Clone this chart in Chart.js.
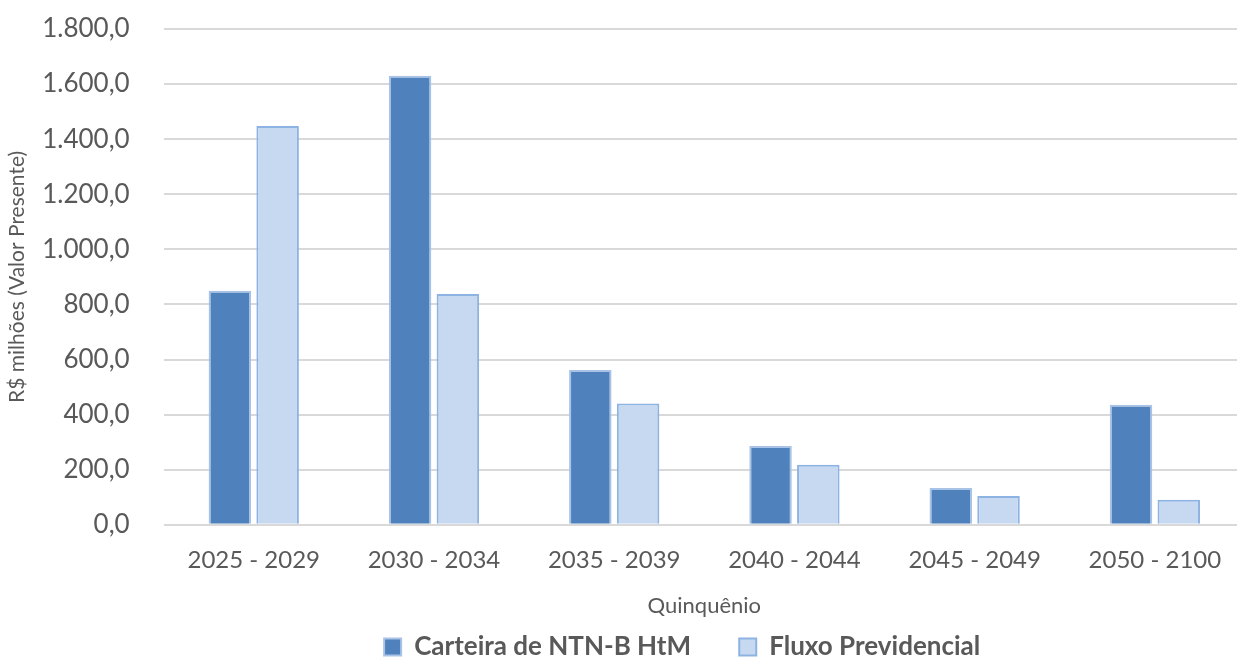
<!DOCTYPE html>
<html>
<head>
<meta charset="utf-8">
<script src="https://cdn.jsdelivr.net/npm/chart.js@4"></script>
<style>
  html, body { margin: 0; padding: 0; background: #fff; overflow: hidden; }
  #wrap { width: 1245px; height: 659px; }
</style>
</head>
<body>
<div id="wrap"><canvas id="grafico"></canvas></div>
<script>
// Dados
const quinquenios = ["2025 - 2029", "2030 - 2034", "2035 - 2039", "2040 - 2044", "2045 - 2049", "2050 - 2100"];
const carteira = [850, 1630, 562, 286, 134, 436];
const fluxo = [1448, 838, 440, 218, 105, 91];

// formato pt-BR com uma casa decimal
function fmt(v) {
  const partes = v.toFixed(1).split(".");
  partes[0] = partes[0].replace(/\B(?=(\d{3})+(?!\d))/g, ".");
  return partes.join(",");
}

const ctx = document.getElementById("grafico").getContext("2d");

new Chart(ctx, {
  type: "bar",
  data: {
    labels: quinquenios,
    datasets: [{
      label: "Carteira de NTN-B HtM",
      data: carteira,
      backgroundColor: "#4f81bd",
      borderColor: "#a9c3e6",
      borderWidth: 2
    }, {
      label: "Fluxo Previdencial",
      data: fluxo,
      backgroundColor: "#c6d9f1",
      borderColor: "#8db3e2",
      borderWidth: 2
    }]
  },
  options: {
    responsive: true,
    maintainAspectRatio: false,
    animation: false,
    layout: { padding: { top: 29, right: 0, left: 5, bottom: -11 } },
    datasets: {
      bar: { categoryPercentage: 0.53, barPercentage: 0.89 }
    },
    plugins: {
      tooltip: { enabled: false },
      legend: {
        position: "bottom",
        fullSize: false,
        labels: {
          font: { family: "Lato", size: 26, weight: "bold" },
          color: "#595959",
          boxWidth: 17,
          boxHeight: 17,
          padding: 4,
          // espaço entre os itens e deslocamento da legenda
          generateLabels: (chart) => {
            const itens = Chart.defaults.plugins.legend.labels.generateLabels(chart);
            itens[0].text = itens[0].text + "       ";
            itens[1].text = itens[1].text + "       ";
            return itens;
          }
        }
      }
    },
    scales: {
      x: {
        grid: { display: false },
        border: { display: false },
        ticks: { font: { family: "Lato", size: 24 }, color: "#595959", padding: 13 },
        title: {
          display: true,
          text: "Quinquênio",
          font: { family: "Lato", size: 22 },
          color: "#595959",
          padding: { top: 5, bottom: 11 }
        }
      },
      y: {
        min: 0,
        max: 1800,
        grid: { color: "#d9d9d9", lineWidth: 2, drawTicks: true, tickLength: 30, tickColor: "rgba(0,0,0,0)" },
        border: { display: false },
        ticks: {
          stepSize: 200,
          font: { family: "Lato", size: 26 },
          color: "#595959",
          padding: 4,
          callback: (v) => fmt(v)
        },
        title: {
          display: true,
          text: "R$ milhões (Valor Presente)",
          font: { family: "Lato", size: 21 },
          color: "#595959",
          padding: { top: 0, bottom: 8 }
        }
      }
    }
  }
});
</script>
</body>
</html>
